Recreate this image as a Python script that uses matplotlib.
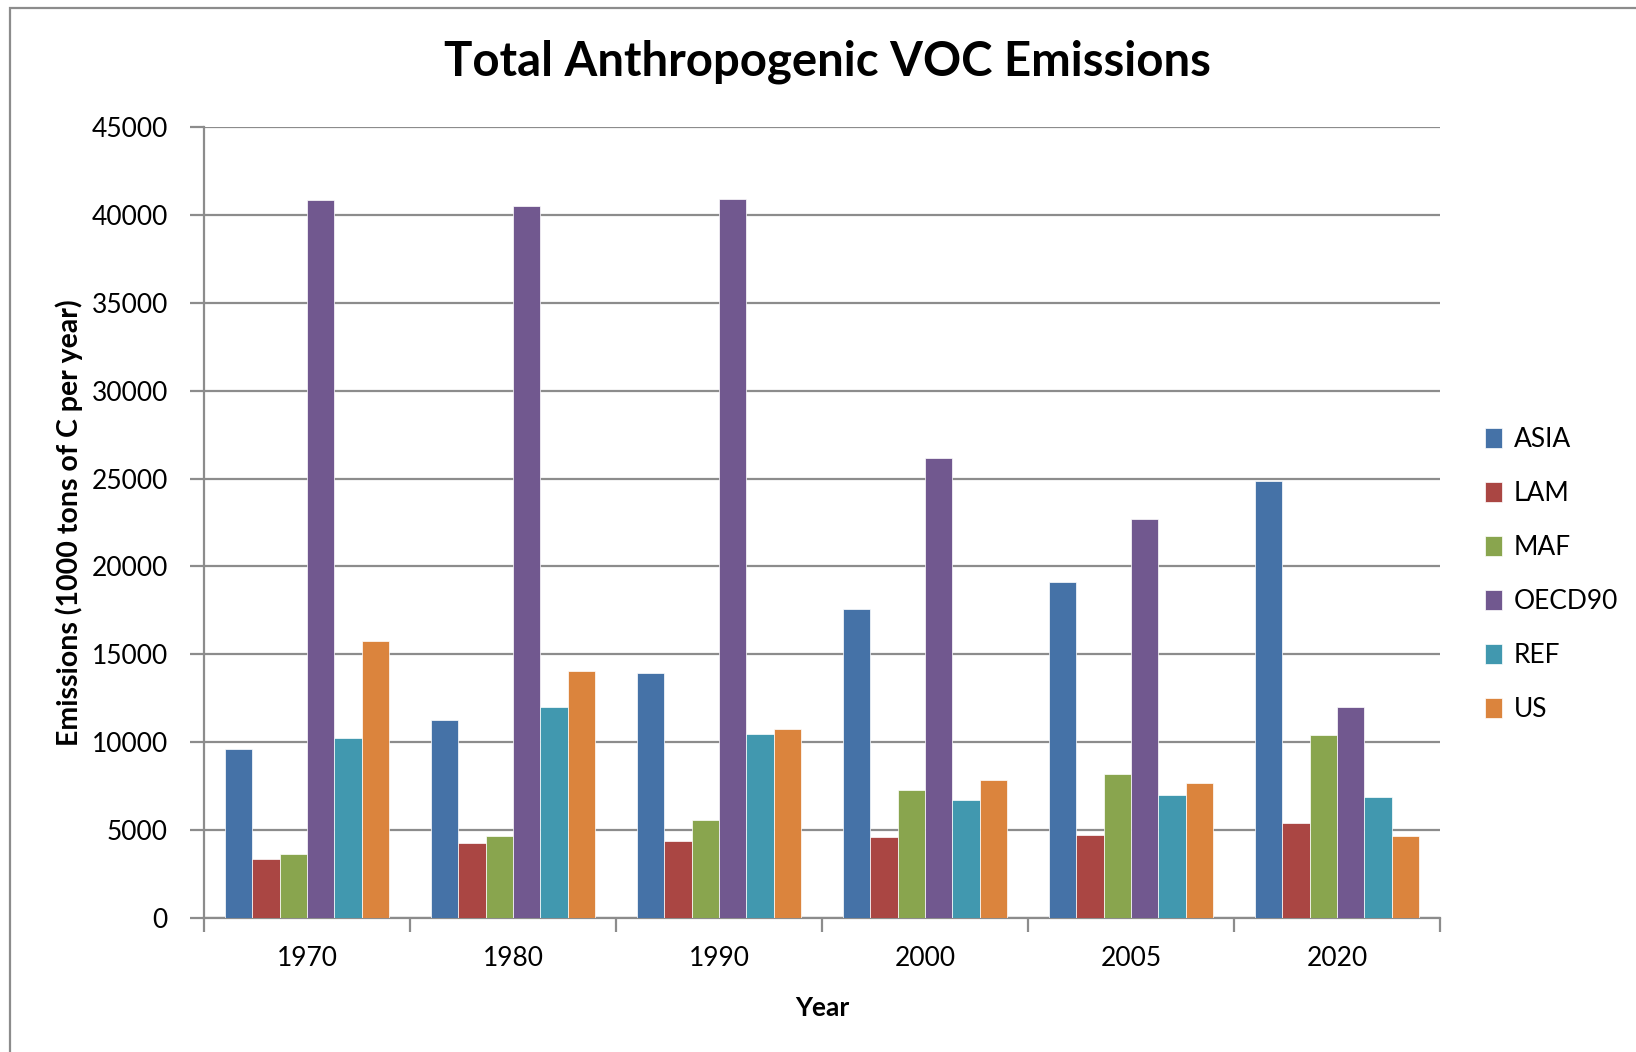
import matplotlib
matplotlib.use("Agg")
import numpy as np
import matplotlib.pyplot as plt
from matplotlib.patches import Rectangle

plt.rcParams['font.family'] = ['Lato', 'DejaVu Sans']

years = ["1970", "1980", "1990", "2000", "2005", "2020"]
regions = ["ASIA", "LAM", "MAF", "OECD90", "REF", "US"]

asia = [9600, 11250, 13950, 17560, 19100, 24850]
lam = [3340, 4270, 4380, 4590, 4700, 5390]
maf = [3640, 4670, 5580, 7300, 8170, 10390]
oecd90 = [40850, 40480, 40900, 26150, 22720, 11980]
ref = [10260, 12020, 10450, 6730, 7020, 6870]
us = [15750, 14070, 10750, 7870, 7660, 4670]

series = [asia, lam, maf, oecd90, ref, us]
colors = ["#4572A7", "#AA4643", "#89A54E", "#71588F", "#4198AF", "#DB843D"]

grid_col = "#8c8c8c"

fig = plt.figure(figsize=(16.36, 10.52), dpi=100)
ax = fig.add_axes([0.1247, 0.1274, 0.7555, 0.7519])

x = np.arange(len(years))
w = 0.8 / len(series)
for i, (vals, c, name) in enumerate(zip(series, colors, regions)):
    ax.bar(x + (i - 2.5) * w, vals, width=w, color=c, edgecolor="white",
           linewidth=0.5, label=name, zorder=3)

ax.set_xlim(-0.5, len(years) - 0.5)
ax.set_ylim(0, 45000)
ax.set_yticks(np.arange(0, 45001, 5000))
ax.yaxis.grid(True, color=grid_col, linewidth=1.6, zorder=0)
ax.set_axisbelow(True)

# category boundaries as major ticks, labels on minor ticks
ax.set_xticks(np.arange(-0.5, len(years), 1.0))
ax.set_xticklabels([])
ax.set_xticks(x, minor=True)
ax.set_xticklabels(years, minor=True)
ax.tick_params(axis='x', which='major', length=10, width=1.6, color=grid_col, direction='out')
ax.tick_params(axis='x', which='minor', length=0, pad=20, labelsize=19)
ax.tick_params(axis='y', length=10, width=1.6, color=grid_col, direction='out', pad=16, labelsize=19)

for s in ["top", "right"]:
    ax.spines[s].set_visible(False)
for s in ["left", "bottom"]:
    ax.spines[s].set_color(grid_col)
    ax.spines[s].set_linewidth(1.6)

ax.set_xlabel("Year", fontsize=19, fontweight='bold', labelpad=18)
ax.set_ylabel("Emissions (1000 tons of C per year)", fontsize=20.5, fontweight='bold', labelpad=6)

fig.suptitle("Total Anthropogenic VOC Emissions", x=0.506, y=0.941, va='center',
             fontsize=34, fontweight='bold')

ax.legend(loc="center left", bbox_to_anchor=(1.017, 0.434), frameon=False, fontsize=19,
          handlelength=0.65, handleheight=0.75, handletextpad=0.45, labelspacing=1.1)

fig.patches.append(Rectangle((9.5 / 1636, -0.1), 1.2, 1.1 - 8.5 / 1052, transform=fig.transFigure,
                             fill=False, edgecolor=grid_col, linewidth=1.6, zorder=0))

fig.savefig("out.png", dpi=100)
